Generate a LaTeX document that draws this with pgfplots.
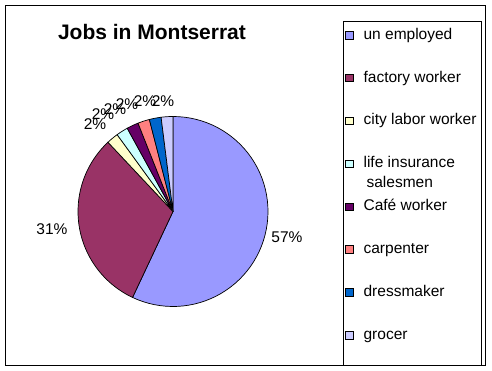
\documentclass[border=0pt]{standalone}
\usepackage{pgfplots}
\pgfplotsset{compat=1.18}
\usepackage{fontspec}
\setmainfont{Liberation Sans}
\definecolor{c1}{HTML}{9999FF}
\definecolor{c2}{HTML}{993366}
\definecolor{c3}{HTML}{FFFFCC}
\definecolor{c4}{HTML}{CCFFFF}
\definecolor{c5}{HTML}{660066}
\definecolor{c6}{HTML}{FF8080}
\definecolor{c7}{HTML}{0066CC}
\definecolor{c8}{HTML}{CCCCFF}
% shares (percent): un employed 57, factory worker 31, city labor worker 2,
% life insurance salesmen 2, Cafe worker 2, carpenter 2, dressmaker 2, grocer 2
% sectors start at 12 o'clock and run clockwise (3.6 degrees per percent)
\pgfplotstableread{
x y lab
287 134 57
52 142 31
95 247 2
103 257 2
115 262 2
127 267 2
145 270 2
163 270 2
}\labels
\begin{document}
\begin{tikzpicture}
\begin{axis}[x=1pt,y=1pt,xmin=0,xmax=492,ymin=0,ymax=371,hide axis,clip=false,
  legend style={at={(axis cs:345,343)},anchor=north west,draw=none,fill=none,
    font=\fontsize{15.5}{20}\selectfont,row sep=28.9pt,column sep=10pt,inner sep=0pt,
    nodes={inner sep=0pt,text height=11pt,text depth=3pt,anchor=west}},
  legend cell align=left,
  legend image code/.code={\draw[#1,draw=black,line width=0.8pt] (0pt,-3.8pt) rectangle (7.6pt,3.8pt);},
  pie/.style={draw=black,line width=0.7pt,samples=60},
]
\path (axis cs:0,0) rectangle (axis cs:492,371);
\addplot[pie,fill=c1,domain=-115.2:90] ({173+95*cos(x)},{159.5+95*sin(x)}) -- (axis cs:173,159.5) -- cycle;
\addlegendentry{un employed}
\addplot[pie,fill=c2,domain=-226.8:-115.2] ({173+95*cos(x)},{159.5+95*sin(x)}) -- (axis cs:173,159.5) -- cycle;
\addlegendentry{factory worker}
\addplot[pie,fill=c3,domain=-234:-226.8,samples=8] ({173+95*cos(x)},{159.5+95*sin(x)}) -- (axis cs:173,159.5) -- cycle;
\addlegendentry{city labor worker}
\addplot[pie,fill=c4,domain=-241.2:-234,samples=8] ({173+95*cos(x)},{159.5+95*sin(x)}) -- (axis cs:173,159.5) -- cycle;
\addlegendentry{\smash{\begin{tabular}[t]{@{}l@{}}life insurance\\\hspace{3pt}salesmen\end{tabular}}}
\addplot[pie,fill=c5,domain=-248.4:-241.2,samples=8] ({173+95*cos(x)},{159.5+95*sin(x)}) -- (axis cs:173,159.5) -- cycle;
\addlegendentry{Café worker}
\addplot[pie,fill=c6,domain=-255.6:-248.4,samples=8] ({173+95*cos(x)},{159.5+95*sin(x)}) -- (axis cs:173,159.5) -- cycle;
\addlegendentry{carpenter}
\addplot[pie,fill=c7,domain=-262.8:-255.6,samples=8] ({173+95*cos(x)},{159.5+95*sin(x)}) -- (axis cs:173,159.5) -- cycle;
\addlegendentry{dressmaker}
\addplot[pie,fill=c8,domain=-270:-262.8,samples=8] ({173+95*cos(x)},{159.5+95*sin(x)}) -- (axis cs:173,159.5) -- cycle;
\addlegendentry{grocer}
\addplot[only marks,mark=none,forget plot,point meta=explicit symbolic,
  nodes near coords={\pgfplotspointmeta\%},
  nodes near coords style={anchor=center,font=\fontsize{15.5}{18}\selectfont,inner sep=0pt}]
  table[x=x,y=y,meta=lab] {\labels};
\node[font=\bfseries\fontsize{21}{24}\selectfont] at (axis cs:152,339) {Jobs in Montserrat};
\draw[line width=1pt] (axis cs:5.5,365.5) rectangle (axis cs:485.5,5.5);
\draw[line width=1pt] (axis cs:343.5,349.5) rectangle (axis cs:481.5,5.5);
\end{axis}
\end{tikzpicture}
\end{document}
